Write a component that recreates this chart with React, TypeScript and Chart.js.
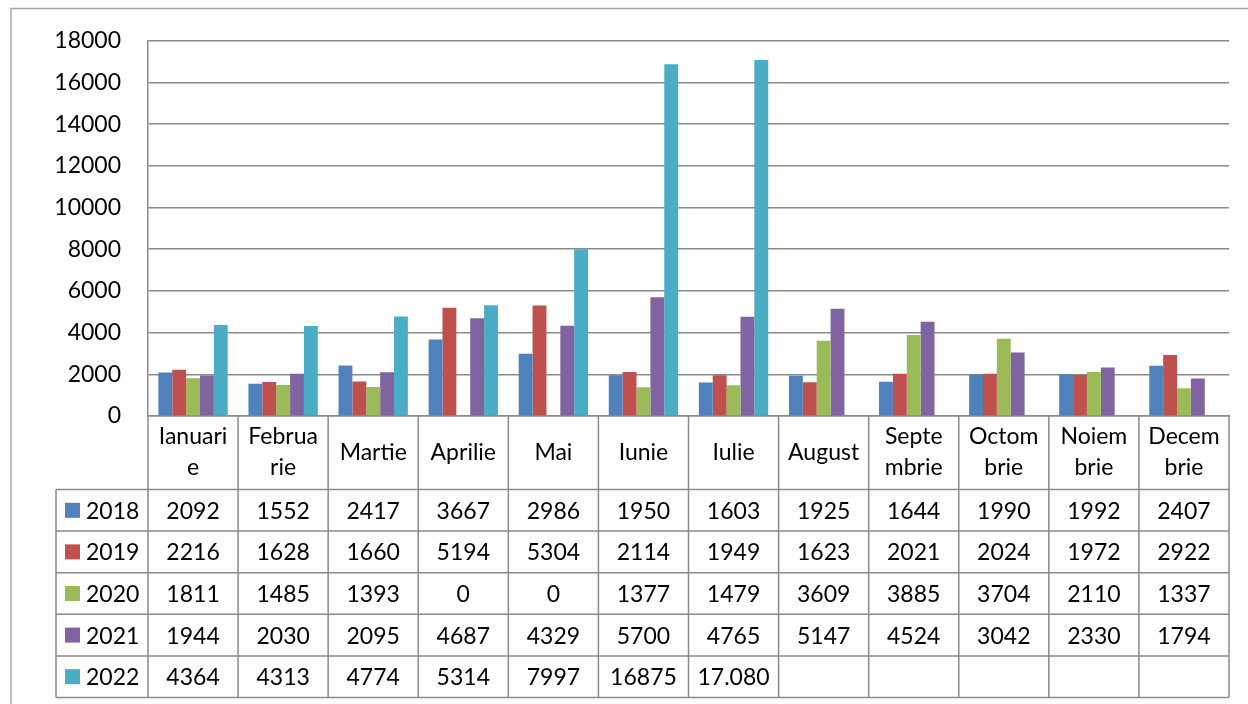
import React, { useEffect, useRef } from "react";
import { Chart, registerables } from "chart.js";

Chart.register(...registerables);

const monthLabels: (string | string[])[] = [
  ["Ianuari", "e"],
  ["Februa", "rie"],
  "Martie",
  "Aprilie",
  "Mai",
  "Iunie",
  "Iulie",
  "August",
  ["Septe", "mbrie"],
  ["Octom", "brie"],
  ["Noiem", "brie"],
  ["Decem", "brie"],
];

const seriesNames = ["2018", "2019", "2020", "2021", "2022"];

const values2018 = [2092, 1552, 2417, 3667, 2986, 1950, 1603, 1925, 1644, 1990, 1992, 2407];
const values2019 = [2216, 1628, 1660, 5194, 5304, 2114, 1949, 1623, 2021, 2024, 1972, 2922];
const values2020 = [1811, 1485, 1393, 0, 0, 1377, 1479, 3609, 3885, 3704, 2110, 1337];
const values2021 = [1944, 2030, 2095, 4687, 4329, 5700, 4765, 5147, 4524, 3042, 2330, 1794];
const values2022 = [4364, 4313, 4774, 5314, 7997, 16875, 17080, null, null, null, null, null];

// text exactly as written in the data table
const tableText2022 = ["4364", "4313", "4774", "5314", "7997", "16875", "17.080", "", "", "", "", ""];

const yTicks = [0, 2000, 4000, 6000, 8000, 10000, 12000, 14000, 16000, 18000];

const colors = ["#4F81BD", "#C0504D", "#9BBB59", "#8064A2", "#4BACC6"];

const FONT = "Lato, 'Open Sans', sans-serif";
const FS = 23;

export default function App() {
  const ref = useRef<HTMLCanvasElement | null>(null);

  useEffect(() => {
    if (!ref.current) return;
    const allValues = [values2018, values2019, values2020, values2021, values2022];
    const tableText = allValues.map((arr, i) =>
      i === 4 ? tableText2022 : arr.map((v) => (v === null ? "" : String(v)))
    );

    const tablePlugin = {
      id: "dataTable",
      afterDraw(chart: any) {
        const ctx = chart.ctx as CanvasRenderingContext2D;
        const xs = chart.scales.x;
        const ys = chart.scales.y;
        const left = chart.chartArea.left;
        const right = chart.chartArea.right;
        const axisY = ys.getPixelForValue(0);
        const rowTop = 489.5;
        const rowH = 41.6;
        const nRows = seriesNames.length;
        const bottom = rowTop + nRows * rowH;
        const tableLeft = 56;
        const n = monthLabels.length;
        const colW = (right - left) / n;

        ctx.save();
        // outer frame
        ctx.strokeStyle = "#a6a6a6";
        ctx.lineWidth = 1.5;
        ctx.beginPath();
        ctx.moveTo(11, 704);
        ctx.lineTo(11, 8.5);
        ctx.lineTo(1248, 8.5);
        ctx.stroke();

        // table grid
        ctx.strokeStyle = "#8a8a8a";
        ctx.lineWidth = 1.5;
        ctx.beginPath();
        for (let i = 0; i <= n; i++) {
          const x = left + i * colW;
          ctx.moveTo(x, axisY);
          ctx.lineTo(x, bottom);
        }
        ctx.moveTo(tableLeft, rowTop);
        ctx.lineTo(tableLeft, bottom);
        for (let r = 0; r <= nRows; r++) {
          const y = rowTop + r * rowH;
          ctx.moveTo(tableLeft, y);
          ctx.lineTo(right, y);
        }
        ctx.stroke();

        // legend keys and values
        ctx.font = `${FS}px ${FONT}`;
        ctx.fillStyle = "#000";
        ctx.textBaseline = "middle";
        for (let r = 0; r < nRows; r++) {
          const cy = rowTop + r * rowH + rowH / 2;
          ctx.fillStyle = colors[r];
          ctx.fillRect(65, cy - 7.5, 15, 15);
          ctx.fillStyle = "#000";
          ctx.textAlign = "left";
          ctx.fillText(seriesNames[r], 86, cy + 1);
          ctx.textAlign = "center";
          for (let c = 0; c < n; c++) {
            const cx = xs.getPixelForValue(c);
            ctx.fillText(tableText[r][c], cx, cy + 1);
          }
        }
        ctx.restore();
      },
    };

    const chart = new Chart(ref.current, {
      type: "bar",
      data: {
        labels: monthLabels as any,
        datasets: seriesNames.map((name, i) => ({
          label: name,
          data: allValues[i] as any,
          backgroundColor: colors[i],
          borderWidth: 0,
          categoryPercentage: 0.77,
          barPercentage: 1,
        })),
      },
      options: {
        animation: false,
        responsive: false,
        maintainAspectRatio: false,
        layout: { padding: { left: 0, top: 38, right: 19, bottom: 0 } },
        plugins: {
          legend: { display: false },
          tooltip: { enabled: false },
        },
        scales: {
          x: {
            grid: { display: false, drawTicks: false },
            border: { display: true, color: "#8a8a8a", width: 1.5 },
            ticks: {
              font: { family: FONT, size: FS, lineHeight: 1.35 },
              color: "#000",
              maxRotation: 0,
              autoSkip: false,
              padding: 21,
              crossAlign: "center",
            },
            afterFit: (scale: any) => {
              scale.height = 288;
            },
          },
          y: {
            min: 0,
            max: 18000,
            afterBuildTicks: (scale: any) => {
              scale.ticks = yTicks.map((v) => ({ value: v }));
            },
            grid: { color: "#8a8a8a", lineWidth: 1.5, drawTicks: false },
            border: { display: true, color: "#8a8a8a", width: 1.5 },
            ticks: {
              font: { family: FONT, size: FS },
              color: "#000",
              padding: 27,
              callback: (v: any) => String(v),
            },
            afterFit: (scale: any) => {
              scale.width = 148;
            },
          },
        },
      },
      plugins: [tablePlugin],
    });
    return () => chart.destroy();
  }, []);

  return (
    <div style={{ position: "fixed", left: 0, top: 0, width: 1248, height: 704, background: "#fff" }}>
      <canvas ref={ref} width={1248} height={704} style={{ display: "block" }} />
    </div>
  );
}
